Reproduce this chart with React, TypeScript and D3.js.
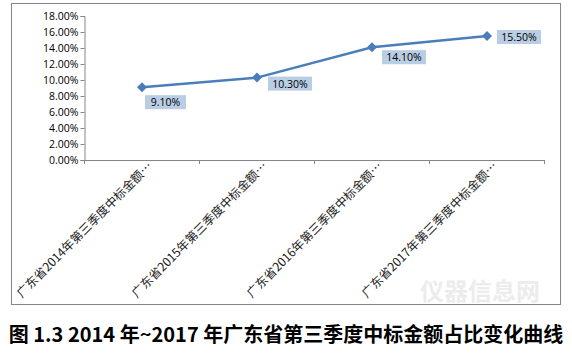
import React, { useRef, useEffect } from "react";
import * as d3 from "d3";

const categories = [
  "广东省2014年第三季度中标金额…",
  "广东省2015年第三季度中标金额…",
  "广东省2016年第三季度中标金额…",
  "广东省2017年第三季度中标金额…",
];
const values = [9.1, 10.3, 14.1, 15.5];
const yTicks = [0, 2, 4, 6, 8, 10, 12, 14, 16, 18];
const title = "图 1.3 2014 年~2017 年广东省第三季度中标金额占比变化曲线";

const App = () => {
  const ref = useRef(null);

  useEffect(() => {
    const svg = d3.select(ref.current);
    svg.selectAll("*").remove();

    const width = 572;
    const height = 353;
    const margin = { top: 16, right: 27.5, bottom: 193, left: 84.5 };

    svg.attr("width", width).attr("height", height);

    // chart frame
    svg
      .append("rect")
      .attr("x", 11.5)
      .attr("y", 3.5)
      .attr("width", 549)
      .attr("height", 301)
      .attr("fill", "white")
      .attr("stroke", "#868686");

    // watermark
    svg
      .append("text")
      .attr("x", 540)
      .attr("y", 300)
      .attr("text-anchor", "end")
      .attr("font-family", "Noto Sans CJK SC")
      .attr("font-weight", "bold")
      .attr("font-size", 24)
      .attr("fill", "#ececec")
      .text("仪器信息网");

    const x = d3
      .scaleBand()
      .domain(categories)
      .range([margin.left, width - margin.right]);

    const y = d3
      .scaleLinear()
      .domain([0, 18])
      .range([height - margin.bottom, margin.top]);

    // y axis
    const yAxis = svg
      .append("g")
      .attr("transform", `translate(${margin.left},0)`)
      .call(
        d3
          .axisLeft(y)
          .tickValues(yTicks)
          .tickSize(4)
          .tickFormat((d) => d3.format(".2f")(d) + "%")
      );
    yAxis.select(".domain").attr("stroke", "#868686");
    yAxis.selectAll(".tick line").attr("stroke", "#868686");
    yAxis
      .selectAll("text")
      .attr("font-family", "Open Sans")
      .attr("font-size", 10.5)
      .attr("fill", "#000")
      .attr("x", -6);

    // x axis
    const xAxis = svg
      .append("g")
      .attr("transform", `translate(0,${y(0)})`)
      .call(d3.axisBottom(x).tickSize(0).tickFormat(() => ""));
    xAxis.select(".domain").attr("stroke", "#868686");

    svg
      .append("g")
      .selectAll("line")
      .data(d3.range(categories.length + 1))
      .join("line")
      .attr("x1", (i) => margin.left + i * x.step())
      .attr("x2", (i) => margin.left + i * x.step())
      .attr("y1", y(0))
      .attr("y2", y(0) + 4)
      .attr("stroke", "#868686");

    // category labels
    svg
      .append("g")
      .selectAll("text")
      .data(categories)
      .join("text")
      .attr(
        "transform",
        (d) => `translate(${x(d) + x.bandwidth() / 2 + 11},${y(0) + 7}) rotate(-45)`
      )
      .attr("text-anchor", "end")
      .attr("font-family", "Noto Sans CJK SC")
      .attr("font-size", 12.2)
      .attr("fill", "#222")
      .text((d) => d);

    const cx = (i) => x(categories[i]) + x.bandwidth() / 2;

    const line = d3
      .line()
      .x((d, i) => cx(i))
      .y((d) => y(d));

    svg
      .append("path")
      .datum(values)
      .attr("d", line)
      .attr("fill", "none")
      .attr("stroke", "#4a7ebb")
      .attr("stroke-width", 2.5);

    // diamond markers
    const r = 5;
    svg
      .append("g")
      .selectAll("path")
      .data(values)
      .join("path")
      .attr("d", `M0,${-r}L${r},0L0,${r}L${-r},0Z`)
      .attr("transform", (d, i) => `translate(${cx(i)},${y(d)})`)
      .attr("fill", "#4a7ebb");

    // data labels
    const offsets = [
      [3, 8],
      [11, -1],
      [10, 3],
      [10, -6],
    ];
    const labels = svg
      .append("g")
      .selectAll("g")
      .data(values)
      .join("g")
      .attr(
        "transform",
        (d, i) => `translate(${cx(i) + offsets[i][0]},${y(d) + offsets[i][1]})`
      );
    labels
      .append("rect")
      .attr("width", (d) => (d >= 10 ? 44 : 41))
      .attr("height", 14)
      .attr("fill", "#b9cde5");
    labels
      .append("text")
      .attr("x", (d) => (d >= 10 ? 22 : 20.5))
      .attr("y", 11)
      .attr("text-anchor", "middle")
      .attr("font-family", "Open Sans")
      .attr("font-size", 10.5)
      .attr("fill", "#000")
      .text((d) => d3.format(".2f")(d) + "%");

    // caption
    svg
      .append("text")
      .attr("x", width / 2)
      .attr("y", 342)
      .attr("text-anchor", "middle")
      .attr("font-family", "Noto Sans CJK SC")
      .attr("font-weight", "bold")
      .attr("font-size", 20)
      .attr("fill", "#000")
      .text(title);
  }, []);

  return <svg ref={ref} style={{ position: "absolute", left: 0, top: 0 }}></svg>;
};

export default App;
